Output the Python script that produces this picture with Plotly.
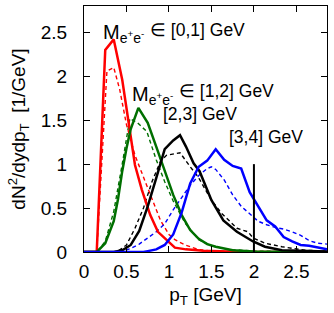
import plotly.graph_objects as go

# ---- data ----
red_solid_x = [0.0, 0.15, 0.25, 0.35, 0.45, 0.55, 0.60, 0.68, 0.78, 0.87, 0.99, 1.07, 1.20, 1.40, 1.70, 2.00, 2.86]
red_solid_y = [0.0, 0.0, 2.30, 2.42, 1.96, 1.30, 0.99, 0.71, 0.42, 0.23, 0.12, 0.05, 0.03, 0.015, 0.005, 0.0, 0.0]

red_dash_x = [0.0, 0.15, 0.27, 0.35, 0.42, 0.50, 0.60, 0.70, 0.80, 0.90, 1.00, 1.07, 1.19, 1.34, 1.50, 2.00, 2.86]
red_dash_y = [0.0, 0.0, 2.06, 2.10, 1.85, 1.45, 1.10, 0.85, 0.60, 0.36, 0.20, 0.14, 0.08, 0.03, 0.01, 0.0, 0.0]

green_solid_x = [0.0, 0.15, 0.25, 0.35, 0.40, 0.45, 0.50, 0.55, 0.64, 0.75, 0.85, 0.95, 1.05, 1.15, 1.25, 1.35, 1.45, 1.55, 1.65, 1.75, 2.00, 2.86]
green_solid_y = [0.0, 0.0, 0.10, 0.35, 0.60, 0.92, 1.18, 1.40, 1.64, 1.47, 1.20, 0.92, 0.65, 0.42, 0.25, 0.15, 0.09, 0.06, 0.04, 0.02, 0.005, 0.0]

green_dash_x = [0.0, 0.15, 0.25, 0.35, 0.45, 0.54, 0.63, 0.74, 0.85, 0.95, 1.05, 1.19, 1.35, 1.50, 1.70, 2.00, 2.86]
green_dash_y = [0.0, 0.0, 0.12, 0.46, 1.00, 1.52, 1.47, 1.37, 1.05, 0.80, 0.58, 0.33, 0.14, 0.07, 0.03, 0.01, 0.0]

black_solid_x = [0.0, 0.35, 0.45, 0.55, 0.65, 0.75, 0.85, 0.95, 1.05, 1.13, 1.20, 1.29, 1.36, 1.50, 1.64, 1.80, 1.99, 2.13, 2.33, 2.60, 2.86]
black_solid_y = [0.0, 0.0, 0.02, 0.08, 0.24, 0.52, 0.84, 1.17, 1.27, 1.33, 1.20, 1.01, 0.92, 0.59, 0.36, 0.23, 0.12, 0.06, 0.02, 0.01, 0.005]

black_dash_x = [0.0, 0.35, 0.40, 0.50, 0.60, 0.70, 0.80, 0.90, 0.97, 1.13, 1.25, 1.34, 1.50, 1.62, 1.80, 1.93, 1.99, 2.13, 2.33, 2.60, 2.86]
black_dash_y = [0.0, 0.0, 0.01, 0.08, 0.27, 0.50, 0.80, 1.03, 1.10, 1.13, 0.97, 0.86, 0.59, 0.44, 0.27, 0.23, 0.16, 0.10, 0.06, 0.02, 0.01]

blue_solid_x = [0.0, 0.70, 0.75, 0.85, 0.95, 1.05, 1.15, 1.25, 1.35, 1.45, 1.55, 1.65, 1.75, 1.85, 1.95, 2.05, 2.15, 2.25, 2.35, 2.45, 2.55, 2.65, 2.75, 2.86]
blue_solid_y = [0.0, 0.0, 0.01, 0.03, 0.08, 0.20, 0.45, 0.78, 0.97, 1.04, 1.17, 1.05, 0.98, 0.95, 0.68, 0.52, 0.36, 0.29, 0.17, 0.12, 0.08, 0.07, 0.05, 0.03]

blue_dash_x = [0.0, 0.35, 0.45, 0.55, 0.65, 0.75, 0.85, 0.95, 1.05, 1.15, 1.25, 1.35, 1.45, 1.50, 1.55, 1.65, 1.75, 1.85, 1.95, 2.05, 2.15, 2.25, 2.35, 2.45, 2.55, 2.65, 2.75, 2.86]
blue_dash_y = [0.0, 0.0, 0.01, 0.04, 0.09, 0.16, 0.23, 0.32, 0.48, 0.62, 0.76, 0.87, 0.95, 0.97, 0.94, 0.82, 0.65, 0.52, 0.44, 0.35, 0.31, 0.28, 0.26, 0.23, 0.19, 0.13, 0.10, 0.09]

vline_x = [2.0, 2.0]
vline_y = [0.0, 1.0]

# mass-window labels: "M_{e+e-}" prefix parts and range parts
mass_prefix = ["M<sub>e<sup>+</sup>e<sup>-</sup></sub>", "M<sub>e<sup>+</sup>e<sup>-</sup></sub>"]
mass_prefix_x = [0.212, 0.553]
mass_prefix_y = [2.53, 1.83]
range_labels = ["\u2208 [0,1] GeV", "\u2208 [1,2] GeV", "[2,3] GeV", "[3,4] GeV"]
range_x = [0.765, 1.106, 0.914, 1.70]
range_y = [2.53, 1.83, 1.57, 1.31]

RED = "#ff0000"
GREEN = "#006f00"
BLACK = "#000000"
BLUE = "#0000ff"
FONT = "Liberation Sans, Arial, Helvetica, sans-serif"
DASH = "4px,3px"

fig = go.Figure()

def add(x, y, color, dash, width):
    fig.add_trace(go.Scatter(x=x, y=y, mode="lines",
                             line=dict(color=color, dash=dash, width=width),
                             showlegend=False, hoverinfo="skip"))

add(red_dash_x, red_dash_y, RED, DASH, 1.4)
add(green_dash_x, green_dash_y, GREEN, DASH, 1.4)
add(black_dash_x, black_dash_y, BLACK, DASH, 1.4)
add(blue_dash_x, blue_dash_y, BLUE, DASH, 1.4)
add(red_solid_x, red_solid_y, RED, "solid", 2.5)
add(green_solid_x, green_solid_y, GREEN, "solid", 2.5)
add(black_solid_x, black_solid_y, BLACK, "solid", 2.5)
add(blue_solid_x, blue_solid_y, BLUE, "solid", 2.5)
add(vline_x, vline_y, BLACK, "solid", 2)

for t, x, y in zip(mass_prefix, mass_prefix_x, mass_prefix_y):
    fig.add_annotation(x=x, y=y, xref="x", yref="y", text=t, showarrow=False,
                       xanchor="left", yanchor="middle", borderpad=0, yshift=-4,
                       font=dict(family=FONT, size=20, color="black"))
for t, x, y in zip(range_labels, range_x, range_y):
    fig.add_annotation(x=x, y=y, xref="x", yref="y", text=t, showarrow=False,
                       xanchor="left", yanchor="middle", borderpad=0,
                       font=dict(family=FONT, size=17.5, color="black"))

axis_common = dict(showline=True, linecolor="black", linewidth=1, mirror="ticks",
                   ticks="inside", ticklen=6, tickcolor="black", tickwidth=1,
                   showgrid=False, zeroline=False, automargin=False,
                   tickfont=dict(family=FONT, size=19, color="black"))

fig.update_xaxes(range=[0, 2.86], tick0=0, dtick=0.5, ticklabelstandoff=2,
                 title=dict(text="p<sub>T</sub> [GeV]", standoff=6,
                            font=dict(family=FONT, size=19, color="black")),
                 **axis_common)
fig.update_yaxes(range=[0, 2.8], tick0=0, dtick=0.5, ticklabelstandoff=12,
                 title=dict(text="dN<sup>2</sup>/dydp<sub>T</sub>\u00a0\u00a0[1/GeV]", standoff=10,
                            font=dict(family=FONT, size=19, color="black")),
                 **axis_common)

fig.update_layout(template="none", width=334, height=313,
                  margin=dict(l=84, r=7, t=6, b=61),
                  plot_bgcolor="white", paper_bgcolor="white",
                  font=dict(family=FONT, size=19, color="black"))

fig.write_html("out.html", config={"displayModeBar": False},
               post_script="document.body.style.margin='0';document.body.style.padding='0';")
